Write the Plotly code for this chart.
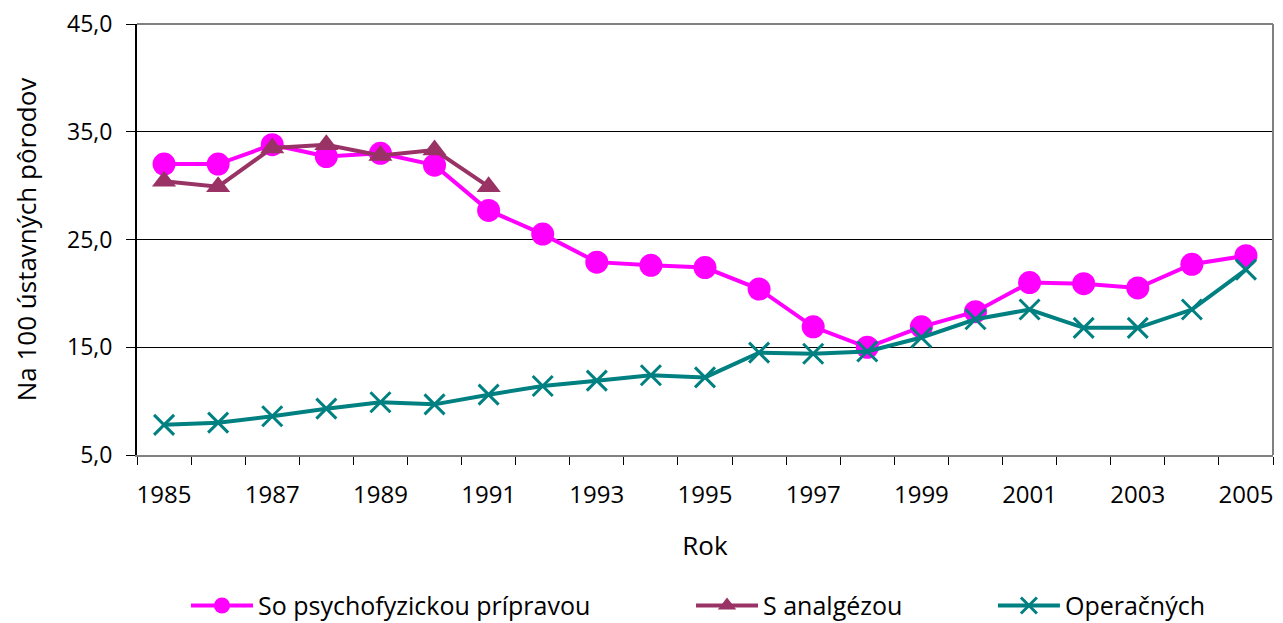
import plotly.graph_objects as go

years = list(range(1985, 2006))
psycho = [32.0, 32.0, 33.8, 32.7, 33.0, 31.9, 27.7, 25.5, 22.9, 22.6, 22.4,
          20.4, 16.9, 15.0, 16.9, 18.3, 21.0, 20.9, 20.5, 22.7, 23.5]
analg_years = list(range(1985, 1992))
analg = [30.4, 29.9, 33.5, 33.8, 32.8, 33.3, 29.9]
operac = [7.8, 8.0, 8.6, 9.3, 9.9, 9.7, 10.6, 11.4, 11.9, 12.4, 12.2,
          14.5, 14.4, 14.6, 15.9, 17.6, 18.5, 16.8, 16.8, 18.5, 22.2]

names = ["So psychofyzickou prípravou", "S analgézou", "Operačných"]
colors = ["#FF00FF", "#993366", "#008080"]
x_labels = [str(y) for y in range(1985, 2006, 2)]
y_ticks = [5, 15, 25, 35, 45]

FONT = "Open Sans"

fig = go.Figure()
fig.add_trace(go.Scatter(
    x=years, y=psycho, name=names[0], mode="lines+markers",
    line=dict(color=colors[0], width=4),
    marker=dict(symbol="circle", size=23, color=colors[0]),
    legend="legend"))
fig.add_trace(go.Scatter(
    x=analg_years, y=analg, name=names[1], mode="lines+markers",
    line=dict(color=colors[1], width=4),
    marker=dict(symbol="triangle-up", size=21, color=colors[1]),
    legend="legend2"))
fig.add_trace(go.Scatter(
    x=years, y=operac, name=names[2], mode="lines+markers",
    line=dict(color=colors[2], width=4),
    marker=dict(symbol="x-thin", size=20, color=colors[2],
                line=dict(color=colors[2], width=3)),
    legend="legend3"))

leg_common = dict(orientation="h", xref="container", yref="container",
                  yanchor="middle", y=0.028, xanchor="left",
                  font=dict(family=FONT, size=25, color="#000000"),
                  bgcolor="rgba(0,0,0,0)", itemwidth=62)

fig.update_layout(
    width=1275, height=615,
    margin=dict(l=129, r=10, t=16, b=168, autoexpand=False),
    paper_bgcolor="white", plot_bgcolor="white",
    separators=", ",
    font=dict(family=FONT, size=24, color="#000000"),
    showlegend=True,
    legend=dict(x=0.1396, **leg_common),
    legend2=dict(x=0.5357, **leg_common),
    legend3=dict(x=0.7725, **leg_common),
    xaxis=dict(
        range=[1984.5, 2005.5], automargin=False,
        tickmode="array", tickvals=[int(v) for v in x_labels], ticktext=x_labels,
        ticks="", showgrid=False, zeroline=False,
        showline=True, linecolor="#808080", linewidth=2, mirror=False,
        minor=dict(tickmode="array", tickvals=[y - 0.5 for y in range(1985, 2007)],
                   ticks="outside", ticklen=8, tickcolor="#000000", tickwidth=1,
                   showgrid=False),
        tickfont=dict(family=FONT, size=24),
        ticklabelstandoff=17, ticklabeloverflow="allow",
        title=dict(text="Rok", font=dict(family=FONT, size=26), standoff=28),
    ),
    yaxis=dict(
        range=[5, 45], tickmode="array", tickvals=y_ticks, tickformat=".1f",
        automargin=False,
        ticks="outside", ticklen=9, tickcolor="#000000", tickwidth=1,
        showgrid=True, gridcolor="#000000", gridwidth=1, zeroline=False,
        showline=True, linecolor="#000000", linewidth=2,
        tickfont=dict(family=FONT, size=23),
        ticklabelstandoff=9, ticklabeloverflow="allow",
        title=dict(text="Na 100 ústavných pôrodov", font=dict(family=FONT, size=26),
                   standoff=28),
    ),
)

# plot frame: grey top and right edges
fig.add_shape(type="line", xref="paper", yref="paper", x0=0, x1=1, y0=1, y1=1,
              line=dict(color="#808080", width=2), layer="above")
fig.add_shape(type="line", xref="paper", yref="paper", x0=1, x1=1, y0=0, y1=1,
              line=dict(color="#808080", width=2), layer="above")

fig.write_html("out.html")
